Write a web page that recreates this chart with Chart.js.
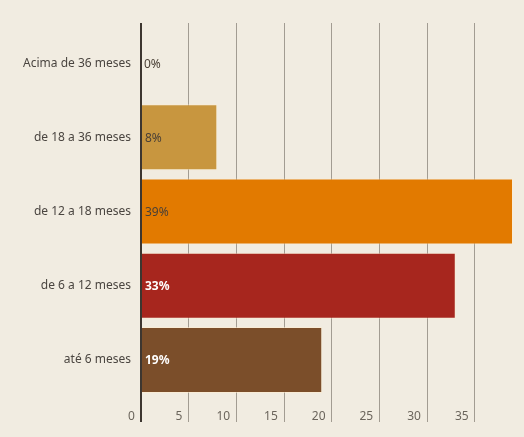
<!DOCTYPE html>
<html>
<head>
<meta charset="utf-8">
<script src="https://cdn.jsdelivr.net/npm/chart.js@4.4.0/dist/chart.umd.min.js"></script>
<style>
  html, body { margin: 0; padding: 0; background: #f1ece1; }
  #wrap { width: 524px; height: 437px; position: relative; }
</style>
</head>
<body>
<div id="wrap"><canvas id="tempoChart"></canvas></div>
<script>
// dados
const categories = ['Acima de 36 meses', 'de 18 a 36 meses', 'de 12 a 18 meses', 'de 6 a 12 meses', 'até 6 meses'];
const values = [0, 8, 39, 33, 19];
const xMax = 39;
const xStep = 5;

const barColors = ['#c8963f', '#c8963f', '#e27a00', '#a7261e', '#7b4e2a'];
const axisDark = '#3d3630';

Chart.defaults.font.family = "'Noto Sans', sans-serif";
Chart.defaults.font.size = 12;

// rótulos de valor dentro das barras
const valueLabels = {
    id: 'valueLabels',
    afterDatasetsDraw(chart) {
        const ctx = chart.ctx;
        const meta = chart.getDatasetMeta(0);
        meta.data.forEach((bar, i) => {
            const light = i >= 3;
            ctx.save();
            ctx.font = (light ? 'bold ' : '') + "12px 'Noto Sans', sans-serif";
            ctx.fillStyle = light ? '#ffffff' : '#4a4036';
            ctx.textAlign = 'left';
            ctx.textBaseline = 'middle';
            ctx.fillText(values[i] + '%', bar.base + 3, bar.y + 1);
            ctx.restore();
        });
    }
};

const gridColor = c => (c.tick && c.tick.value === 0) ? axisDark : '#a29c92';
const gridWidth = c => (c.tick && c.tick.value === 0) ? 2 : 1;
const onlySteps = scale => { scale.ticks = scale.ticks.filter(t => t.value % xStep === 0); };

const chart = new Chart(document.getElementById('tempoChart').getContext('2d'), {
    type: 'bar',
    data: {
        labels: categories,
        datasets: [{
            data: values,
            backgroundColor: barColors,
            borderColor: 'rgba(255, 236, 205, 0.55)',
            borderWidth: 1,
            barPercentage: 0.89,
            categoryPercentage: 1
        }]
    },
    options: {
        indexAxis: 'y',
        responsive: true,
        maintainAspectRatio: false,
        animation: false,
        layout: { padding: { top: 23, right: 11, bottom: 0, left: 0 } },
        plugins: {
            legend: { display: false },
            tooltip: { enabled: false }
        },
        scales: {
            x: {
                position: 'bottom',
                min: 0,
                max: xMax,
                afterBuildTicks: onlySteps,
                afterFit: s => { s.height = 40; },
                border: { display: false },
                grid: { color: gridColor, lineWidth: gridWidth, tickLength: 25 },
                ticks: {
                    stepSize: xStep,
                    align: 'end',
                    padding: -13,
                    color: '#6b655c',
                    callback: v => v + '  '
                }
            },
            x2: {
                position: 'top',
                min: 0,
                max: xMax,
                afterBuildTicks: onlySteps,
                afterFit: s => { s.height = 3; },
                border: { display: false },
                grid: { color: gridColor, lineWidth: gridWidth, tickLength: 3, drawOnChartArea: false },
                ticks: { stepSize: xStep, display: false }
            },
            y: {
                afterFit: s => { s.width = 141; },
                border: { display: true, color: axisDark, width: 2 },
                grid: { display: false, drawTicks: false },
                ticks: { padding: 10, color: '#4a4540' }
            }
        }
    },
    plugins: [valueLabels]
});
</script>
</body>
</html>
